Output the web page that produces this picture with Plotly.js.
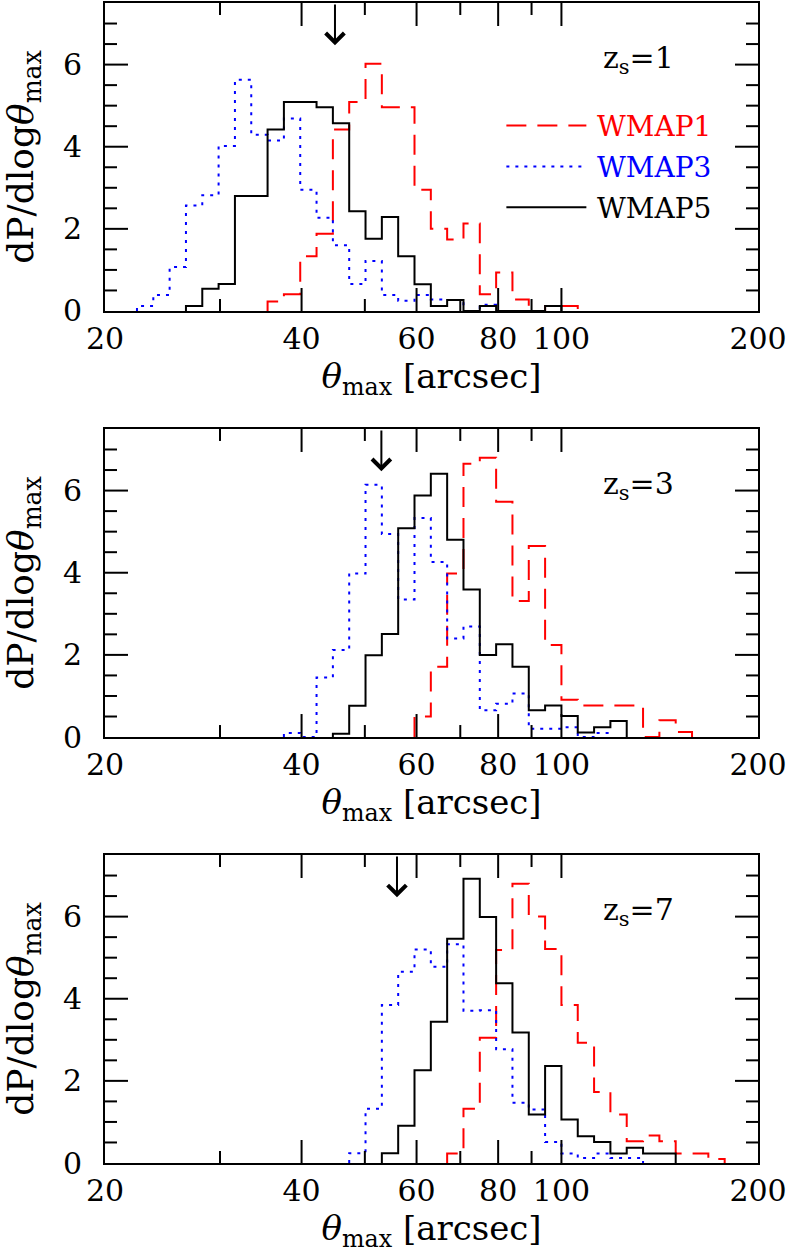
<!DOCTYPE html>
<html><head><meta charset="utf-8">
<script src="https://cdn.plot.ly/plotly-3.0.1.min.js"></script>
<style>html,body{margin:0;padding:0;background:#fff}#chart{width:789px;height:1259px}</style>
</head><body><div id="chart"></div>
<script>
// log10(theta) of histogram bin edges (bin i spans binEdgesLog[i]..binEdgesLog[i+1])
const binEdgesLog = [1.325,1.35,1.375,1.4,1.425,1.45,1.475,1.5,1.525,1.55,1.575,1.6,1.625,1.65,1.675,1.7,1.725,1.75,1.775,1.8,1.825,1.85,1.875,1.9,1.925,1.95,1.975,2.0,2.025,2.05,2.075,2.1,2.125,2.15,2.175,2.2,2.225,2.25,2.275];

// z_s = 1
const p1_wmap1 = [0,0,0,0,0,0,0,0,0,0.23,0.41,1.33,1.88,4.42,5.09,6.02,4.96,4.96,2.95,2.0,1.74,2.13,0.41,0.94,0.28,0,0.12,0.12,0,0,0,0,0,0,0,0,0,0];
const p1_wmap3 = [0,0.12,0.39,1.07,2.57,2.82,4.02,5.63,4.29,4.15,4.69,2.95,2.27,1.60,0.66,1.22,0.39,0.25,0.39,0.28,0.27,0,0.15,0,0,0,0,0,0,0,0,0,0,0,0,0,0,0];
const p1_wmap5 = [0,0,0,0,0.12,0.54,0.66,2.80,2.80,4.42,5.09,5.09,4.96,4.57,2.43,1.76,2.29,1.33,0.65,0.12,0.27,0,0.12,0,0,0,0.12,0,0,0,0,0,0,0,0,0,0,0];
// z_s = 3
const p2_wmap1 = [0,0,0,0,0,0,0,0,0,0,0,0,0,0,0,0,0,0,0.5,1.71,3.98,6.65,6.80,5.73,3.31,4.65,2.24,0.91,0.77,0.77,0.77,0.77,0,0.41,0.12,0,0,0];
const p2_wmap3 = [0,0,0,0,0,0,0,0,0,0,0.1,0,1.45,2.12,3.98,6.14,4.94,3.35,5.33,4.26,2.40,2.69,0.65,0.81,1.06,0.2,0.2,0.24,0,0.1,0,0,0,0,0,0,0,0];
const p2_wmap5 = [0,0,0,0,0,0,0,0,0,0,0,0,0,0.08,0.76,1.99,2.51,5.08,5.88,6.41,4.80,3.59,2.0,2.26,1.71,0.65,0.77,0.51,0.11,0.24,0.39,0,0,0,0,0,0,0];
// z_s = 7
const p3_wmap1 = [0,0,0,0,0,0,0,0,0,0,0,0,0,0,0,0,0,0,0,0,0.23,1.32,3.05,5.19,6.80,6.0,5.21,3.85,2.93,1.73,1.18,0.53,0.67,0.53,0.23,0.23,0.10,0];
const p3_wmap3 = [0,0,0,0,0,0,0,0,0,0,0,0,0,0,0.24,1.32,3.85,4.66,5.20,4.78,5.33,3.71,3.72,2.77,1.47,1.30,0.51,0.23,0.12,0.23,0.12,0.12,0,0,0,0,0,0];
const p3_wmap5 = [0,0,0,0,0,0,0,0,0,0,0,0,0,0,0,0,0.24,0.91,2.26,3.44,5.46,6.92,5.99,4.38,3.18,1.18,2.36,1.06,0.65,0.51,0.23,0.37,0.23,0.23,0,0,0,0];

const seriesNames = ['WMAP1','WMAP3','WMAP5'];
const seriesColors = ['#ff0000','#0000ff','#000000'];
const seriesDash = ['20px,11px','3px,6px','solid'];
const panelLabels = ['z<sub>s</sub>=1','z<sub>s</sub>=3','z<sub>s</sub>=7'];
const arrowTheta = [45, 53, 56];
const xTickVals = [20,40,60,80,100,200];
const xTickText = ['20','40','60','80','100','200'];
const xMinorVals = [30,50,70,90];
const yTickVals = [0,2,4,6];
const yTickText = ['0','2','4','6'];
const yMinorVals = [0.5,1,1.5,2.5,3,3.5,4.5,5,5.5,6.5,7];

const panels = [[p1_wmap1,p1_wmap3,p1_wmap5],[p2_wmap1,p2_wmap3,p2_wmap5],[p3_wmap1,p3_wmap3,p3_wmap5]];
const domains = [[0.7345,1],[0.3672,0.6328],[0,0.2655]];
const FONT = 'DejaVu Serif';
const PAD = '\u2002';
const X_RANGE = [20, 200], Y_RANGE = [0, 7.5];
// tick lengths as fractions of the panel (23 px major, 12 px minor)
const XT_MAJ = 0.0747, XT_MIN = 0.039, YT_MAJ = 0.0352, YT_MIN = 0.0184;

function stepXY(vals){
  let f = vals.findIndex(v => v > 0);
  let l = vals.length - 1; while (vals[l] <= 0) l--;
  const x = [Math.pow(10, binEdgesLog[f])], y = [0];
  for (let i = f; i <= l; i++){ x.push(Math.pow(10, binEdgesLog[i])); y.push(vals[i]); }
  x.push(Math.pow(10, binEdgesLog[l+1])); y.push(0);
  return {x, y};
}

const traces = [];
const shapes = [];
const layout = {
  width:789, height:1259,
  margin:{l:105, r:31, t:3, b:96},
  paper_bgcolor:'#fff', plot_bgcolor:'#fff',
  font:{family:FONT, size:30, color:'#000'},
  showlegend:true,
  legend:{x:0.607, y:0.9157, xanchor:'left', yanchor:'top', bgcolor:'rgba(0,0,0,0)',
          font:{family:FONT, size:28}, traceorder:'grouped', tracegroupgap:1.5, itemwidth:80},
  annotations:[], shapes: shapes
};

function tickLine(xref, yref, x0, x1, y0, y1){
  shapes.push({type:'line', layer:'above', xref, yref, x0, x1, y0, y1, line:{color:'#000', width:2}});
}

panels.forEach((series, p) => {
  const sfx = p === 0 ? '' : String(p+1);
  series.forEach((vals, s) => {
    const xy = stepXY(vals);
    traces.push({
      type:'scatter', mode:'lines', x: xy.x, y: xy.y,
      xaxis:'x'+sfx, yaxis:'y'+sfx,
      line:{shape:'hv', color: seriesColors[s], width:2, dash: seriesDash[s]},
      name: '<span style="color:'+seriesColors[s]+'">\u2009'+seriesNames[s]+'</span>',
      showlegend: p === 0, legendgroup: 'g'+s, hoverinfo:'skip'
    });
  });

  const common = {showgrid:false, zeroline:false, showline:true, linewidth:2, linecolor:'#000',
                  mirror:true, ticks:'', tickmode:'array', fixedrange:true};
  layout['xaxis'+sfx] = Object.assign({}, common, {
    type:'log', range:[Math.log10(X_RANGE[0]), Math.log10(X_RANGE[1])], domain:[0,1], anchor:'y'+sfx,
    tickvals:xTickVals, ticktext:xTickText, tickfont:{family:FONT, size:30},
    title:{text:PAD+'<i>θ</i><sub>max</sub> [arcsec]', font:{family:FONT, size:34}, standoff:4}
  });
  layout['yaxis'+sfx] = Object.assign({}, common, {
    range:Y_RANGE, domain:domains[p], anchor:'x'+sfx,
    tickvals:yTickVals, ticktext:yTickText.map(t => t + PAD), tickfont:{family:FONT, size:30},
    title:{text:'dP/dlog<i>θ</i><sub>max</sub>', font:{family:FONT, size:36}, standoff:29}
  });

  // inward tick marks on all four sides, placed at the tick values through the axes
  const xr = 'x'+sfx, yr = 'y'+sfx, xd = 'x'+sfx+' domain', yd = 'y'+sfx+' domain';
  [[xTickVals, XT_MAJ], [xMinorVals, XT_MIN]].forEach(([vals, len]) => {
    vals.filter(v => v > X_RANGE[0] && v < X_RANGE[1]).forEach(v => {
      tickLine(xr, yd, v, v, 0, len);
      tickLine(xr, yd, v, v, 1, 1 - len);
    });
  });
  [[yTickVals, YT_MAJ], [yMinorVals, YT_MIN]].forEach(([vals, len]) => {
    vals.filter(v => v > Y_RANGE[0] && v < Y_RANGE[1]).forEach(v => {
      tickLine(xd, yr, 0, len, v, v);
      tickLine(xd, yr, 1, 1 - len, v, v);
    });
  });

  layout.annotations.push({
    xref:'x'+sfx, yref:'y'+sfx, x:Math.log10(131), y:6.12,
    text:panelLabels[p], showarrow:false, xanchor:'center', yanchor:'middle',
    font:{family:FONT, size:30, color:'#000'}
  });
  layout.annotations.push({
    xref:'x'+sfx, yref:'y'+sfx, x:Math.log10(arrowTheta[p]), y:6.47,
    text:'', showarrow:true, axref:'x'+sfx, ayref:'y'+sfx, ax:Math.log10(arrowTheta[p]), ay:7.5,
    arrowhead:4, arrowsize:1.8, arrowwidth:2, arrowcolor:'#000', font:{size:1}
  });
});

Plotly.newPlot('chart', traces, layout, {displayModeBar:false});
</script></body></html>
